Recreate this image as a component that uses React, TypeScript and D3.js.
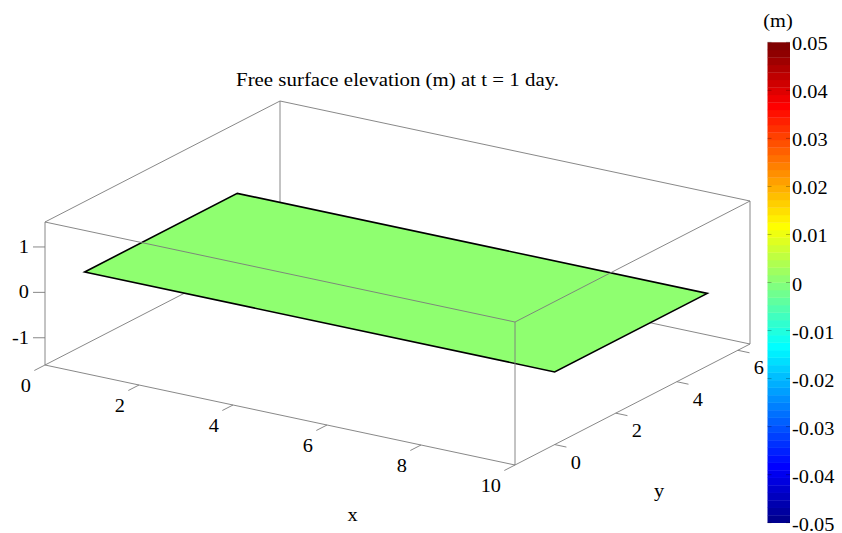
import React from 'react';
import * as d3 from 'd3';

// ---- data ----
const xDomain = [0, 10];
const yDomain = [-1.3, 6.4];
const zDomain = [-1.6, 1.55];
const xTicks = [0, 2, 4, 6, 8, 10];
const yTicks = [0, 2, 4, 6];
const zTicks = [-1, 0, 1];
const surfX = [0, 10];
const surfY = [0, 5];
const surfZ = [
  [0, 0],
  [0, 0],
];
const cLim = [-0.05, 0.05];
const cbTicks = [-0.05, -0.04, -0.03, -0.02, -0.01, 0, 0.01, 0.02, 0.03, 0.04, 0.05];
const cbLabels = ['-0.05', '-0.04', '-0.03', '-0.02', '-0.01', '0', '0.01', '0.02', '0.03', '0.04', '0.05'];
const titleText = 'Free surface elevation (m) at t = 1 day.';

// ---- style / layout ----
const W = 842, H = 533;
const P0 = [45, 365];
const EX = [470, 100];
const EY = [235, -121];
const EZ = [0, -143];
const FONT = "'Liberation Serif', 'Times New Roman', serif";
const SX = 1.13;
const BOX = '#7a7a7a';

function jet(m: number): number[][] {
  const n = Math.ceil(m / 4);
  const u: number[] = [];
  for (let i = 1; i <= n; i++) u.push(i / n);
  for (let i = 0; i < n - 1; i++) u.push(1);
  for (let i = n; i >= 1; i--) u.push(i / n);
  const off = Math.ceil(n / 2) - (m % 4 === 1 ? 1 : 0);
  const J = Array.from({ length: m }, () => [0, 0, 0]);
  u.forEach((val, i) => {
    const g = off + i + 1;
    const r = g + n;
    const b = g - n;
    if (g >= 1 && g <= m) J[g - 1][1] = val;
    if (r >= 1 && r <= m) J[r - 1][0] = val;
    if (b >= 1 && b <= m) J[b - 1][2] = val;
  });
  return J;
}
const CMAP = jet(64);
const rgb = (c: number[]) => `rgb(${Math.round(c[0] * 255)},${Math.round(c[1] * 255)},${Math.round(c[2] * 255)})`;
function colorOf(v: number) {
  let idx = Math.floor(((v - cLim[0]) / (cLim[1] - cLim[0])) * CMAP.length);
  idx = Math.max(0, Math.min(CMAP.length - 1, idx));
  return rgb(CMAP[idx]);
}

const sx = d3.scaleLinear().domain(xDomain).range([0, 1]);
const sy = d3.scaleLinear().domain(yDomain).range([0, 1]);
const sz = d3.scaleLinear().domain(zDomain).range([0, 1]);
function proj(x: number, y: number, z: number): [number, number] {
  const u = sx(x), v = sy(y), w = sz(z);
  return [P0[0] + u * EX[0] + v * EY[0] + w * EZ[0], P0[1] + u * EX[1] + v * EY[1] + w * EZ[1]];
}

const T = (props: any) => {
  const { x, y, anchor = 'middle', size = 18, children, fill = '#000' } = props;
  return (
    <text
      transform={`translate(${x},${y}) scale(${SX},1)`}
      textAnchor={anchor}
      fontFamily={FONT}
      fontSize={size}
      fill={fill}
    >
      {children}
    </text>
  );
};

export default function App() {
  const [x0, x1] = xDomain, [y0, y1] = yDomain, [z0, z1] = zDomain;
  const line = (a: [number, number], b: [number, number], key: string, stroke = BOX, w = 0.9) => (
    <line key={key} x1={a[0]} y1={a[1]} x2={b[0]} y2={b[1]} stroke={stroke} strokeWidth={w} />
  );
  // back edges (hidden corner x0,y1,z0)
  const backEdges = [
    [proj(x0, y1, z0), proj(x0, y1, z1)],
    [proj(x0, y1, z0), proj(x0, y0, z0)],
    [proj(x0, y1, z0), proj(x1, y1, z0)],
  ];
  const frontEdges = [
    [proj(x0, y0, z0), proj(x0, y0, z1)],
    [proj(x0, y0, z0), proj(x1, y0, z0)],
    [proj(x1, y0, z0), proj(x1, y0, z1)],
    [proj(x1, y0, z0), proj(x1, y1, z0)],
    [proj(x1, y1, z0), proj(x1, y1, z1)],
    [proj(x1, y0, z1), proj(x1, y1, z1)],
    [proj(x0, y0, z1), proj(x1, y0, z1)],
    [proj(x0, y0, z1), proj(x0, y1, z1)],
    [proj(x0, y1, z1), proj(x1, y1, z1)],
  ];
  const eyLen = Math.hypot(EY[0], EY[1]);
  const exLen = Math.hypot(EX[0], EX[1]);
  const TL = 12;
  const xTickDir = [(-EY[0] / eyLen) * TL, (-EY[1] / eyLen) * TL];
  const yTickDir = [(EX[0] / exLen) * TL, (EX[1] / exLen) * TL];

  // surface polygons
  const quads: { pts: [number, number][]; c: number }[] = [];
  for (let i = 0; i < surfX.length - 1; i++) {
    for (let j = 0; j < surfY.length - 1; j++) {
      const pts: [number, number][] = [
        proj(surfX[i], surfY[j], surfZ[j][i]),
        proj(surfX[i + 1], surfY[j], surfZ[j][i + 1]),
        proj(surfX[i + 1], surfY[j + 1], surfZ[j + 1][i + 1]),
        proj(surfX[i], surfY[j + 1], surfZ[j + 1][i]),
      ];
      const c = (surfZ[j][i] + surfZ[j][i + 1] + surfZ[j + 1][i + 1] + surfZ[j + 1][i]) / 4;
      quads.push({ pts, c });
    }
  }

  // colorbar
  const cbX = 767.5, cbW = 22.5;
  const cbScale = d3.scaleLinear().domain(cLim).range([522.7, 42.3]);
  const nC = CMAP.length;
  const step = (cLim[1] - cLim[0]) / nC;

  return (
    <svg width={W} height={H} style={{ position: 'absolute', left: 0, top: 0, background: '#fff' }}>
      <rect x={0} y={0} width={W} height={H} fill="#fff" />
      {backEdges.map((e, i) => line(e[0], e[1], 'b' + i))}
      {/* surface */}
      {quads.map((q, i) => (
        <polygon
          key={'q' + i}
          points={q.pts.map((p) => p.join(',')).join(' ')}
          fill={colorOf(q.c)}
          stroke="#000"
          strokeWidth={1.6}
          strokeLinejoin="miter"
        />
      ))}
      {frontEdges.map((e, i) => line(e[0], e[1], 'f' + i))}
      {/* z ticks */}
      {zTicks.map((t) => {
        const p = proj(x0, y0, t);
        return (
          <g key={'z' + t}>
            {line(p, [p[0] - TL, p[1]], 'zt' + t)}
            <T x={p[0] - 16} y={p[1] + 6} anchor="end">{String(t)}</T>
          </g>
        );
      })}
      {/* x ticks */}
      {xTicks.map((t) => {
        const p = proj(t, y0, z0);
        return (
          <g key={'x' + t}>
            {line(p, [p[0] + xTickDir[0], p[1] + xTickDir[1]], 'xt' + t)}
            <T x={p[0] - 14} y={p[1] + 27} anchor="end">{String(t)}</T>
          </g>
        );
      })}
      {/* y ticks */}
      {yTicks.map((t) => {
        const p = proj(x1, t, z0);
        return (
          <g key={'y' + t}>
            {line(p, [p[0] + yTickDir[0], p[1] + yTickDir[1]], 'yt' + t)}
            <T x={p[0] + 16} y={p[1] + 24} anchor="start">{String(t)}</T>
          </g>
        );
      })}
      <T x={352.5} y={521}>x</T>
      <T x={659} y={497}>y</T>
      <T x={397.5} y={86} size={18.5}>{titleText}</T>
      {/* colorbar */}
      {d3.range(nC).map((k) => {
        const v0 = cLim[0] + k * step;
        const yTop = cbScale(v0 + step);
        const yBot = cbScale(v0);
        return (
          <rect
            key={'c' + k}
            x={cbX}
            y={yTop}
            width={cbW}
            height={yBot - yTop + 0.3}
            fill={rgb(CMAP[k])}
          />
        );
      })}
      {cbTicks.map((t, i) => {
        const y = cbScale(t);
        return (
          <g key={'cb' + i}>
            <line x1={cbX} x2={cbX + 4} y1={y} y2={y} stroke="#000" strokeOpacity={0.35} strokeWidth={0.8} />
            <line x1={cbX + cbW - 4} x2={cbX + cbW} y1={y} y2={y} stroke="#000" strokeOpacity={0.35} strokeWidth={0.8} />
            <T x={cbX + cbW + 2} y={y + 8} anchor="start">{cbLabels[i]}</T>
          </g>
        );
      })}
      <T x={778} y={27}>(m)</T>
    </svg>
  );
}
